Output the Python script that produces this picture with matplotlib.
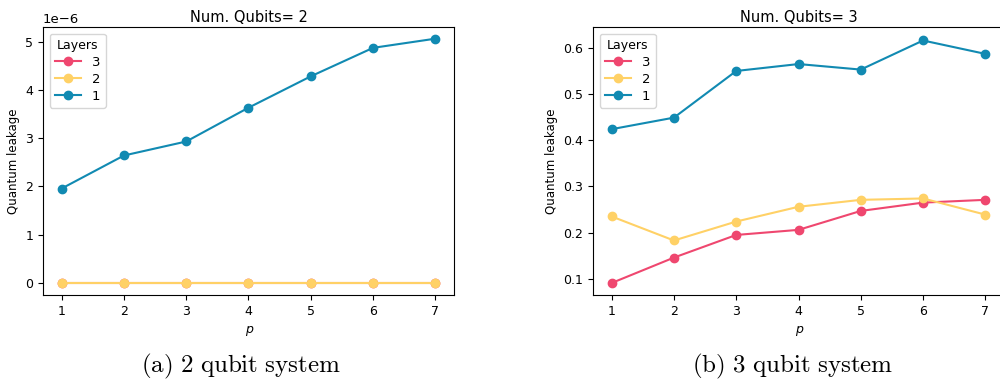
import matplotlib.pyplot as plt
import numpy as np

plt.rcParams['mathtext.fontset'] = 'cm'

p = [1, 2, 3, 4, 5, 6, 7]
layers = ["3", "2", "1"]
colors = ["#ef476f", "#ffd166", "#118ab2"]

# 2 qubits
q2_l3 = [1e-9, 1e-9, 1e-9, 1e-9, 1e-9, 1e-9, 1e-9]
q2_l2 = [2e-9, 2e-9, 2e-9, 2e-9, 2e-9, 2e-9, 2e-9]
q2_l1 = [1.956e-6, 2.64e-6, 2.93e-6, 3.63e-6, 4.28e-6, 4.87e-6, 5.06e-6]

# 3 qubits
q3_l3 = [0.091, 0.146, 0.195, 0.206, 0.247, 0.265, 0.271]
q3_l2 = [0.235, 0.183, 0.224, 0.256, 0.271, 0.274, 0.239]
q3_l1 = [0.424, 0.449, 0.550, 0.565, 0.553, 0.616, 0.587]

fig = plt.figure(figsize=(10, 3.8), dpi=100)
ax1 = fig.add_axes([0.043, 0.2237, 0.411, 0.705])
ax2 = fig.add_axes([0.593, 0.2237, 0.411, 0.705])

for ax, series, title in [(ax1, [q2_l3, q2_l2, q2_l1], "Num. Qubits= 2"),
                          (ax2, [q3_l3, q3_l2, q3_l1], "Num. Qubits= 3")]:
    for vals, lab, c in zip(series, layers, colors):
        ax.plot(p, vals, marker='o', color=c, label=lab, lw=1.5, ms=6)
    ax.set_title(title, fontsize=10.5, pad=4)
    ax.set_xlabel("p", fontsize=9, style='italic')
    ax.set_ylabel("Quantum leakage", fontsize=8.5)
    ax.tick_params(labelsize=9)
    ax.set_xticks(p)
    ax.legend(title="Layers", loc="upper left", fontsize=9.5, title_fontsize=9,
              labelspacing=0.3)

ax1.set_ylim(-0.25e-6, 5.3e-6)
ax2.set_ylim(0.065, 0.645)
ax1.yaxis.get_offset_text().set_fontsize(9.5)

fig.text(0.2415, 0.021, r"$\mathrm{(a)\ 2\ qubit\ system}$", ha='center',
         va='baseline', fontsize=18)
fig.text(0.7925, 0.021, r"$\mathrm{(b)\ 3\ qubit\ system}$", ha='center',
         va='baseline', fontsize=18)

fig.savefig("out.png", dpi=100)
